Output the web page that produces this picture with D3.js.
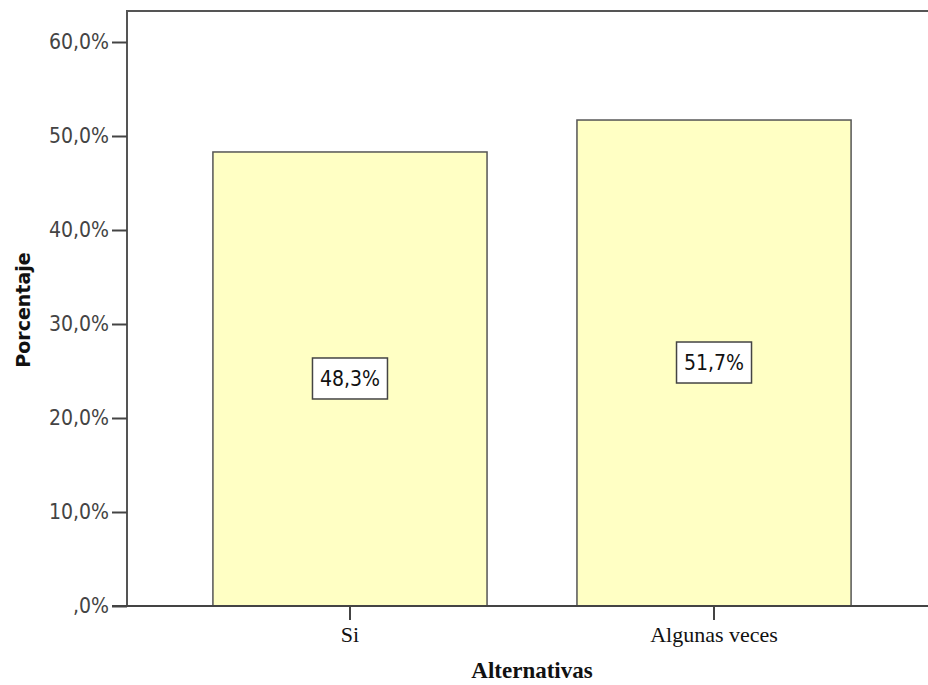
<!DOCTYPE html>
<html>
<head>
<meta charset="utf-8">
<script src="https://cdn.jsdelivr.net/npm/d3@7"></script>
<style>
  html, body { margin: 0; padding: 0; background: #fff; }
  svg { display: block; }
</style>
</head>
<body>
<svg id="chart" width="928" height="685"></svg>
<script>
// Response categories and their share of answers (%)
const categories = ["Si", "Algunas veces"];
const percentages = [48.3, 51.7];
const yTicks = [0, 10, 20, 30, 40, 50, 60];
const xTitle = "Alternativas";
const yTitle = "Porcentaje";

const svg = d3.select("#chart");

const frameLeft = 127, frameTop = 11, axisY = 606;

const x = d3.scaleBand()
  .domain(categories)
  .range([127, 937])
  .paddingInner(0.247)
  .paddingOuter(0.236);

const y = d3.scaleLinear()
  .domain([0, 60])
  .range([axisY, 42]);

const fmt = d => d === 0 ? ",0%" : d.toFixed(1).replace(".", ",") + "%";

// Plot frame (top and left edges; right edge runs off the canvas)
svg.append("path")
  .attr("d", `M${frameLeft},${axisY} V${frameTop} H940`)
  .attr("fill", "none")
  .attr("stroke", "#555")
  .attr("stroke-width", 2);

// Bars
svg.append("g").selectAll("rect")
  .data(categories)
  .join("rect")
  .attr("x", d => x(d))
  .attr("y", (d, i) => y(percentages[i]))
  .attr("width", x.bandwidth())
  .attr("height", (d, i) => y(0) - y(percentages[i]))
  .attr("fill", "#ffffc4")
  .attr("stroke", "#555")
  .attr("stroke-width", 1.5);

// Y axis
const yAxis = svg.append("g")
  .attr("transform", `translate(${frameLeft},0)`)
  .call(d3.axisLeft(y).tickValues(yTicks).tickFormat(fmt).tickSize(15).tickPadding(3));
yAxis.select(".domain").remove();
yAxis.selectAll(".tick line").attr("stroke", "#444").attr("stroke-width", 2);
yAxis.selectAll(".tick text")
  .attr("fill", "#444")
  .style("font-family", "'DejaVu Sans Condensed', 'DejaVu Sans', sans-serif")
  .style("font-stretch", "condensed")
  .style("font-size", "21px");

// X axis
const xAxis = svg.append("g")
  .attr("transform", `translate(0,${axisY})`)
  .call(d3.axisBottom(x).tickSize(14).tickPadding(6));
xAxis.select(".domain").remove();
xAxis.selectAll(".tick line").attr("stroke", "#444").attr("stroke-width", 2);
xAxis.selectAll(".tick text")
  .attr("fill", "#111")
  .style("font-family", "'Liberation Serif', 'Times New Roman', serif")
  .style("font-size", "22px");

svg.append("line")
  .attr("x1", 112).attr("x2", 940)
  .attr("y1", axisY).attr("y2", axisY)
  .attr("stroke", "#444")
  .attr("stroke-width", 2);

// Value labels in boxes at the middle of each bar
const labels = svg.append("g").selectAll("g")
  .data(categories)
  .join("g")
  .attr("transform", (d, i) => `translate(${x(d) + x.bandwidth() / 2},${(y(percentages[i]) + y(0)) / 2})`);

labels.append("rect")
  .attr("x", -37.5).attr("y", -21)
  .attr("width", 75).attr("height", 41)
  .attr("fill", "#fff")
  .attr("stroke", "#444")
  .attr("stroke-width", 1.5);

labels.append("text")
  .attr("text-anchor", "middle")
  .attr("dy", "0.35em")
  .attr("fill", "#111")
  .style("font-family", "'DejaVu Sans Condensed', 'DejaVu Sans', sans-serif")
  .style("font-stretch", "condensed")
  .style("font-size", "21px")
  .text((d, i) => percentages[i].toFixed(1).replace(".", ",") + "%");

// Axis titles
svg.append("text")
  .attr("x", (x.range()[0] + x.range()[1]) / 2)
  .attr("y", 678)
  .attr("text-anchor", "middle")
  .attr("fill", "#111")
  .style("font-family", "'Liberation Serif', 'Times New Roman', serif")
  .style("font-weight", "bold")
  .style("font-size", "23px")
  .text(xTitle);

svg.append("text")
  .attr("transform", "translate(30,310) rotate(-90)")
  .attr("text-anchor", "middle")
  .attr("fill", "#111")
  .style("font-family", "'DejaVu Sans', sans-serif")
  .style("font-weight", "bold")
  .style("font-size", "19px")
  .text(yTitle);
</script>
</body>
</html>
